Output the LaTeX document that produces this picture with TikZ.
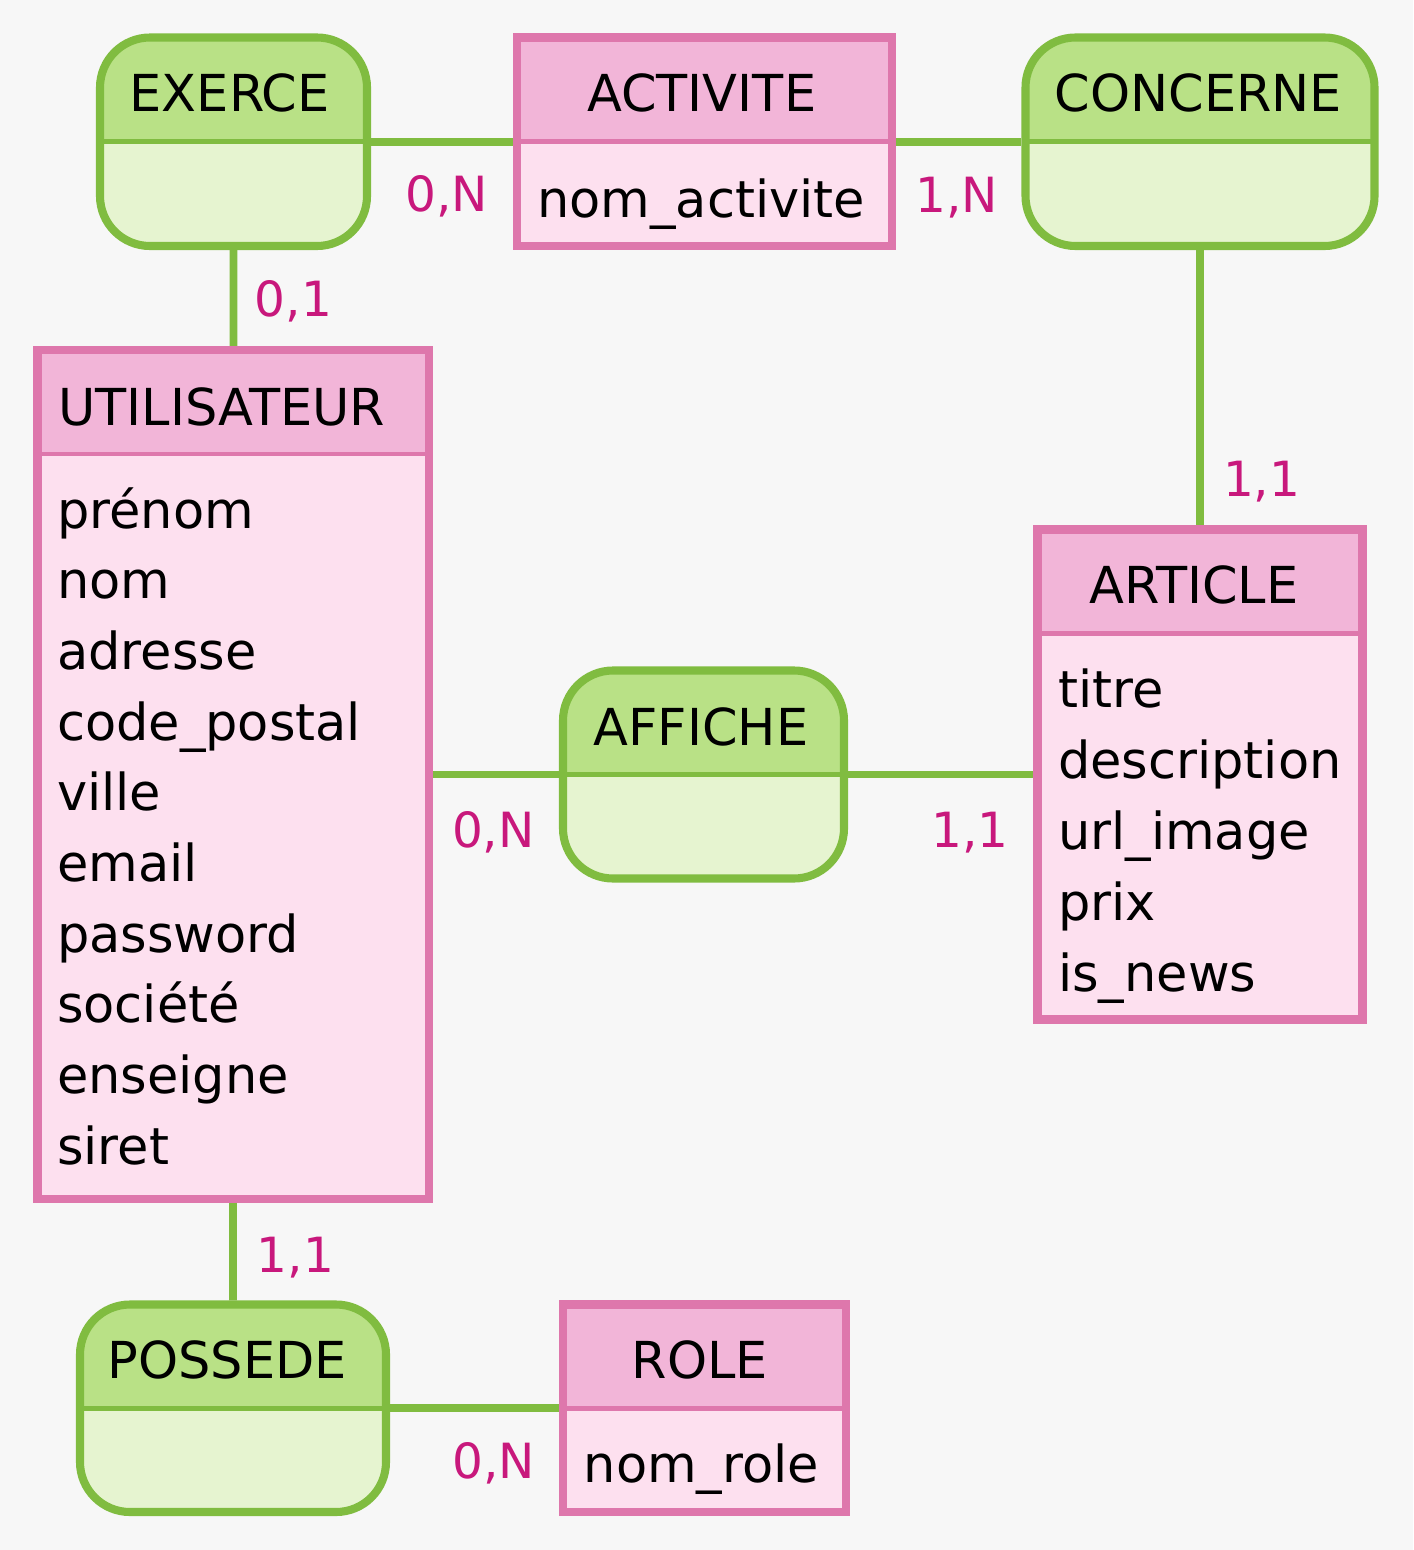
\documentclass[tikz,border=0pt]{standalone}
\usepackage{fontspec}
\setmainfont{DejaVu Sans}

\definecolor{bgcol}{RGB}{247,247,247}
\definecolor{greenline}{RGB}{128,188,64}
\definecolor{greenhead}{RGB}{185,225,134}
\definecolor{greenbody}{RGB}{230,244,208}
\definecolor{pinkline}{RGB}{222,119,172}
\definecolor{pinkhead}{RGB}{242,181,216}
\definecolor{pinkbody}{RGB}{253,224,239}
\definecolor{cardcol}{RGB}{200,24,124}

\begin{document}
\begin{tikzpicture}[
  entity/.style={draw=pinkline, line width=2.3pt, fill=pinkbody, inner sep=0pt,
    path picture={
      \fill[pinkhead, sharp corners] (path picture bounding box.north west) rectangle ([yshift=-1.04cm]path picture bounding box.north east);
      \draw[pinkline, line width=1.3pt, sharp corners] ([yshift=-1.04cm]path picture bounding box.north west) -- ([yshift=-1.04cm]path picture bounding box.north east);}},
  assoc/.style={draw=greenline, line width=2.3pt, fill=greenbody, inner sep=0pt, rounded corners=0.5cm,
    path picture={
      \fill[greenhead, sharp corners] (path picture bounding box.north west) rectangle ([yshift=-1.04cm]path picture bounding box.north east);
      \draw[greenline, line width=1.3pt, sharp corners] ([yshift=-1.04cm]path picture bounding box.north west) -- ([yshift=-1.04cm]path picture bounding box.north east);}},
  attr/.style={inner sep=0pt, anchor=base west, font=\fontsize{14.5pt}{17pt}\selectfont},
  card/.style={inner sep=0pt, anchor=base, text=cardcol, font=\fontsize{13.8pt}{16pt}\selectfont},
  link/.style={draw=greenline, line width=2.2pt}]

\fill[bgcol] (0,0) rectangle (14.13,-15.50);
\useasboundingbox (0,0) rectangle (14.13,-15.50);

% associations
\node[assoc, minimum width=2.67cm, minimum height=2.085cm] (exerce) at (2.335,-1.4175) {};
\node[attr] (exerce-t) at (1.29,-1.117) {EXERCE};

\node[assoc, minimum width=3.49cm, minimum height=2.085cm] (concerne) at (12.00,-1.4175) {};
\node[attr] (concerne-t) at (10.54,-1.11) {CONCERNE};

\node[assoc, minimum width=2.81cm, minimum height=2.08cm] (affiche) at (7.035,-7.745) {};
\node[attr] (affiche-t) at (5.93,-7.45) {AFFICHE};

\node[assoc, minimum width=3.06cm, minimum height=2.075cm] (possede) at (2.33,-14.0825) {};
\node[attr] (possede-t) at (1.07,-13.78) {POSSEDE};

% entities
\node[entity, minimum width=3.75cm, minimum height=2.085cm] (activite) at (7.042,-1.4175) {};
\node[attr, anchor=base] (activite-t) at (7.017,-1.12) {ACTIVITE};
\node[attr] (activite-1) at (5.365,-2.17) {nom\_activite};

\node[entity, minimum width=3.915cm, minimum height=8.49cm] (utilisateur) at (2.3325,-7.745) {};
\node[attr] (utilisateur-t) at (0.575,-4.25) {UTILISATEUR};
\node[attr] (utilisateur-1) at (0.565,-5.28) {prénom};
\node[attr] (utilisateur-2) at (0.565,-5.987) {nom};
\node[attr] (utilisateur-3) at (0.565,-6.694) {adresse};
\node[attr] (utilisateur-4) at (0.565,-7.401) {code\_postal};
\node[attr] (utilisateur-5) at (0.565,-8.108) {ville};
\node[attr] (utilisateur-6) at (0.565,-8.815) {email};
\node[attr] (utilisateur-7) at (0.565,-9.522) {password};
\node[attr] (utilisateur-8) at (0.565,-10.229) {société};
\node[attr] (utilisateur-9) at (0.565,-10.936) {enseigne};
\node[attr] (utilisateur-10) at (0.565,-11.643) {siret};

\node[entity, minimum width=3.25cm, minimum height=4.90cm] (article) at (12.00,-7.745) {};
\node[attr, anchor=base] (article-t) at (11.94,-6.03) {ARTICLE};
\node[attr] (article-1) at (10.575,-7.07) {titre};
\node[attr] (article-2) at (10.575,-7.782) {description};
\node[attr] (article-3) at (10.575,-8.494) {url\_image};
\node[attr] (article-4) at (10.575,-9.206) {prix};
\node[attr] (article-5) at (10.575,-9.918) {is\_news};

\node[entity, minimum width=2.83cm, minimum height=2.075cm] (role) at (7.045,-14.0825) {};
\node[attr, anchor=base] (role-t) at (7.00,-13.78) {ROLE};
\node[attr] (role-1) at (5.83,-14.82) {nom\_role};

% links
\path[link] (exerce) -- (activite);
\path[link] (activite) -- (concerne);
\path[link] (exerce) -- (utilisateur);
\path[link] (concerne) -- (article);
\path[link] (utilisateur) -- (affiche);
\path[link] (affiche) -- (article);
\path[link] (utilisateur) -- (possede);
\path[link] (possede) -- (role);

% cardinalities
\node[card] (c-exerce-act) at (4.47,-2.117) {0,N};
\node[card] (c-concerne-act) at (9.567,-2.12) {1,N};
\node[card] (c-exerce-util) at (2.933,-3.167) {0,1};
\node[card] (c-concerne-art) at (12.617,-4.967) {1,1};
\node[card] (c-affiche-util) at (4.933,-8.47) {0,N};
\node[card] (c-affiche-art) at (9.70,-8.47) {1,1};
\node[card] (c-possede-util) at (2.955,-12.72) {1,1};
\node[card] (c-possede-role) at (4.935,-14.78) {0,N};
\end{tikzpicture}
\end{document}
